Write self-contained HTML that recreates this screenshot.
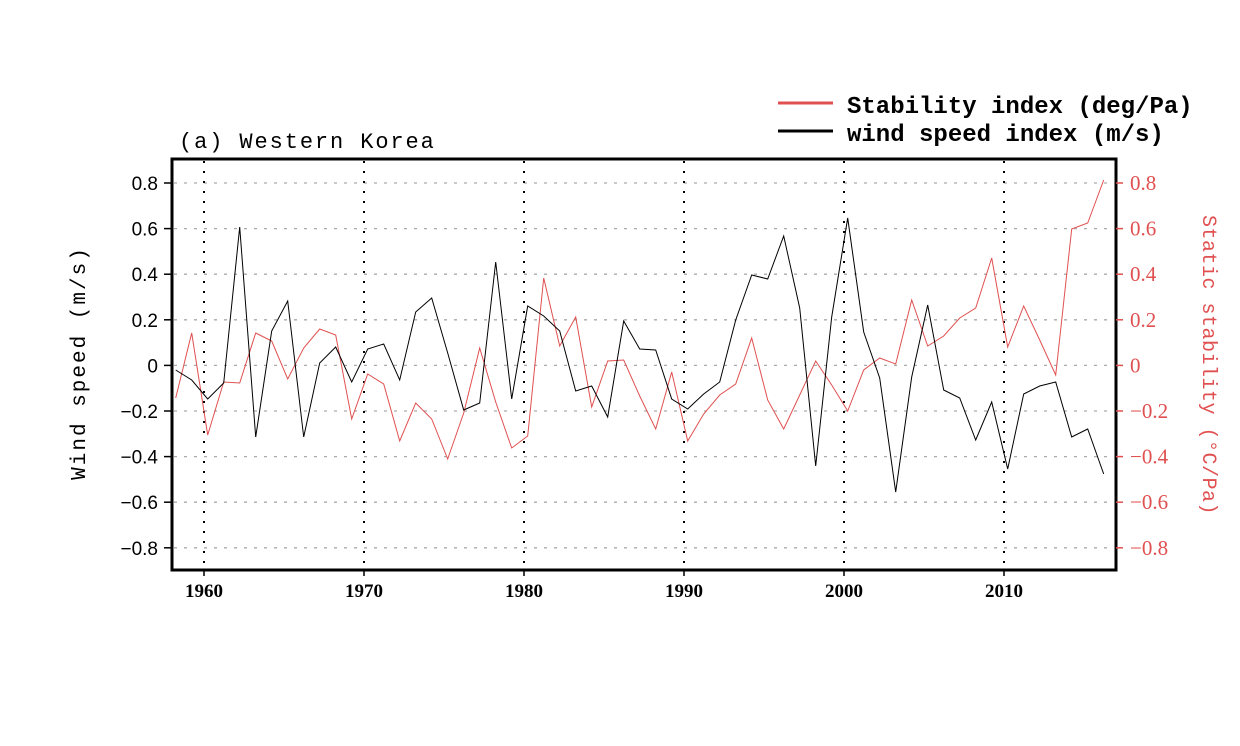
<!DOCTYPE html>
<html><head><meta charset="utf-8"><style>
html,body{margin:0;padding:0;background:#fff;}
svg{display:block;}
</style></head><body>
<svg id="s" width="1240" height="746" xmlns="http://www.w3.org/2000/svg">
<rect width="1240" height="746" fill="#fff"/>
<g id="grid" stroke="#aaa" stroke-width="1.3" stroke-dasharray="3,7"></g>
<g id="vgrid" stroke="#000" stroke-width="2" stroke-dasharray="2,8"></g>
<polyline id="red" fill="none" stroke="#e05050" stroke-width="1"/>
<polyline id="blk" fill="none" stroke="#000" stroke-width="1"/>
<rect x="172" y="159" width="944" height="411" fill="none" stroke="#000" stroke-width="3"/>
<g id="ticks" stroke-width="1.5"></g>
<g id="lab" style="font-family:'Liberation Sans',sans-serif;font-size:19px"></g>
<text x="179" y="148" style="font-family:'Liberation Mono',monospace;font-size:22px" letter-spacing="1.9" fill="#000">(a) Western Korea</text>
<text transform="translate(85,363) rotate(-90)" text-anchor="middle" style="font-family:'Liberation Mono',monospace;font-size:21px" letter-spacing="2" fill="#000">Wind speed (m/s)</text>
<text transform="translate(1203,365) rotate(90)" text-anchor="middle" style="font-family:'Liberation Mono',monospace;font-size:20px" letter-spacing="0.5" fill="#e05050">Static stability (°C/Pa)</text>
<line x1="778" y1="103" x2="833" y2="103" stroke="#e05050" stroke-width="3"/>
<line x1="778" y1="131" x2="833" y2="131" stroke="#000" stroke-width="3"/>
<text x="847" y="113" style="font-family:'Liberation Mono',monospace;font-weight:bold;font-size:24px" fill="#000">Stability index (deg/Pa)</text>
<text x="847" y="141" style="font-family:'Liberation Mono',monospace;font-weight:bold;font-size:24px" fill="#000">wind speed index (m/s)</text>
</svg>
<script>
var NS="http://www.w3.org/2000/svg";
function el(p,t,a,txt){var e=document.createElementNS(NS,t);for(var k in a)e.setAttribute(k,a[k]);if(txt!==undefined)e.textContent=txt;document.getElementById(p).appendChild(e);}
var bk=[370,380,399,383,227,437,331,301,437,363,347,382,349,344,380,312,298,353,410,403,262,399,306,316,331,391,386,417,321,349,350,399,409,394,382,320,275,279,236,308,466,317,218,332,378,492,377,305,390,398,440,402,469,394,386,382,437,429,474];
var rd=[398,333,435,382,383,333,341,379,348,329,335,419,374,384,441,403,419,459,413,348,402,448,436,278,346,317,407,361,360,396,429,372,441,414,395,384,338,400,429,395,361,385,411,370,358,364,300,346,336,318,308,258,347,306,340,375,229,223,180];
function pts(a){return a.map(function(y,i){return (175.7+16*i).toFixed(1)+","+y;}).join(" ");}
document.getElementById("blk").setAttribute("points",pts(bk));
document.getElementById("red").setAttribute("points",pts(rd));
var vals=["0.8","0.6","0.4","0.2","0","\u22120.2","\u22120.4","\u22120.6","\u22120.8"];
for(var i=0;i<9;i++){var y=183+i*45.6;
el("grid","line",{x1:174,x2:1114,y1:y,y2:y});
el("ticks","line",{x1:164,x2:172,y1:y,y2:y,stroke:"#000"});
el("ticks","line",{x1:1116,x2:1123,y1:y,y2:y,stroke:"#e05050"});
el("lab","text",{x:158,y:y+7,"text-anchor":"end",fill:"#000"},vals[i]);
el("lab","text",{x:1130,y:y+7,fill:"#e05050",style:"font-family:'Liberation Serif',serif;font-size:21px"},vals[i]);
}
for(var j=0;j<6;j++){var x=204+160*j;
el("vgrid","line",{x1:x,x2:x,y1:161,y2:568});
el("ticks","line",{x1:x,x2:x,y1:570,y2:576,stroke:"#000"});
el("lab","text",{x:x,y:597,"text-anchor":"middle",fill:"#000",style:"font-family:'Liberation Serif',serif;font-weight:bold;font-size:19px"},String(1960+10*j));
}
</script>
</body></html>
